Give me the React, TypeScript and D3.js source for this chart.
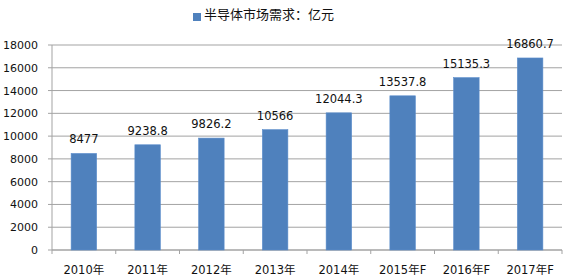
import React from "react";
import * as d3 from "d3";

const categories = ["2010年", "2011年", "2012年", "2013年", "2014年", "2015年F", "2016年F", "2017年F"];
const values = [8477, 9238.8, 9826.2, 10566, 12044.3, 13537.8, 15135.3, 16860.7];
const valueLabels = ["8477", "9238.8", "9826.2", "10566", "12044.3", "13537.8", "15135.3", "16860.7"];
const yTicks = [0, 2000, 4000, 6000, 8000, 10000, 12000, 14000, 16000, 18000];
const seriesName = "半导体市场需求：亿元";

const W = 570;
const H = 278;
const left = 52;
const right = 562;
const top = 45;
const bottom = 250;
const numFont = "'DejaVu Sans', Verdana, sans-serif";
const mixFont = "'DejaVu Sans', 'Noto Sans CJK SC', sans-serif";
const cjkFont = "'Noto Sans CJK SC', 'DejaVu Sans', sans-serif";

export default function App() {
  const x = d3.scaleBand<string>().domain(categories).range([left, right]).paddingInner(0).paddingOuter(0);
  const y = d3.scaleLinear().domain([0, 18000]).range([bottom, top]);
  const bw = x.bandwidth() * 0.4;
  const gridColor = "#a3a3a3";
  return (
    <svg width={W} height={H} style={{ position: "absolute", left: 0, top: 0, background: "#fff" }}>
      {/* legend */}
      <rect x={193} y={13} width={8} height={8} fill="#4F81BD" />
      <text x={204} y={18.5} fontSize={13} fontFamily={cjkFont} fill="#111">
        {seriesName}
      </text>
      {/* gridlines */}
      {yTicks.map((t) => (
        <g key={t}>
          <line x1={left - 4} x2={right} y1={y(t)} y2={y(t)} stroke={gridColor} strokeWidth={1} />
          <text x={38} y={y(t)} dy="0.36em" textAnchor="end" fontSize={11} fontFamily={numFont} fill="#111">
            {t}
          </text>
        </g>
      ))}
      {/* axes */}
      <line x1={left} x2={left} y1={top} y2={bottom} stroke={gridColor} />
      <line x1={left} x2={right} y1={bottom} y2={bottom} stroke={gridColor} />
      {categories.map((c, i) => (
        <line key={"t" + i} x1={x(c)!} x2={x(c)!} y1={bottom} y2={bottom + 4} stroke={gridColor} />
      ))}
      <line x1={right} x2={right} y1={bottom} y2={bottom + 4} stroke={gridColor} />
      {/* bars */}
      {categories.map((c, i) => {
        const cx = x(c)! + x.bandwidth() / 2;
        return (
          <g key={c}>
            <rect x={cx - bw / 2} y={y(values[i])} width={bw} height={bottom - y(values[i])} fill="#4F81BD" stroke="#5a8ccb" strokeWidth={0.6} />
            <text x={cx} y={y(values[i]) - 10} textAnchor="middle" fontSize={11.5} fontFamily={numFont} fill="#111">
              {valueLabels[i]}
            </text>
            <text x={cx} y={274} textAnchor="middle" fontSize={11.5} fontFamily={mixFont} fill="#111">
              {c}
            </text>
          </g>
        );
      })}
    </svg>
  );
}
